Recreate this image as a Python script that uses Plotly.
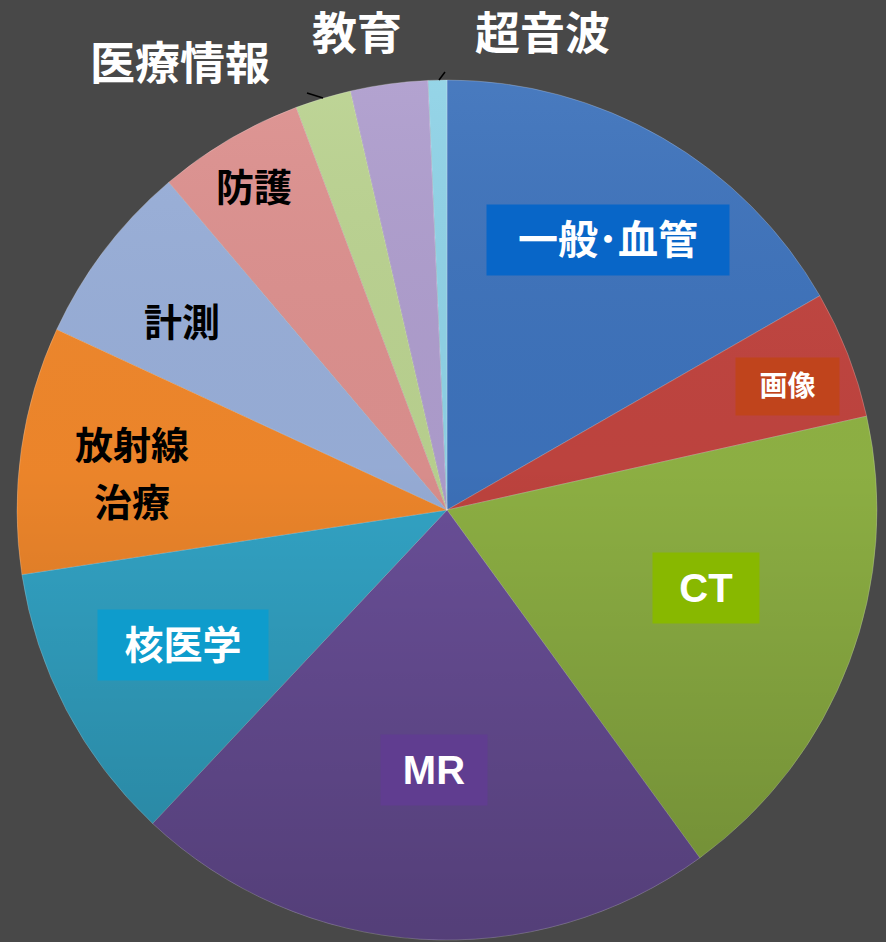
import base64
import plotly.graph_objects as go

# ---- data ----
categories = ["一般・血管", "画像", "CT", "MR", "核医学", "放射線治療",
              "計測", "防護", "医療情報", "教育", "超音波"]
values = [16.7, 4.8, 18.5, 22.0, 10.6, 9.3, 6.9, 5.5, 2.1, 2.9, 0.7]
label_lines = [["一般･血管"], ["画像"], ["CT"], ["MR"], ["核医学"], ["放射線", "治療"],
               ["計測"], ["防護"], ["医療情報"], ["教育"], ["超音波"]]

slice_colors = ["#3d72bb", "#c0443f", "#8fb244", "#6b509a", "#33a6c8", "#f0872b",
                "#98aed8", "#dc908e", "#bad290", "#ae9dcd", "#8fd2e6"]

W, H = 886, 942
BG = "#484848"
FONT = "Liberation Sans, Noto Sans CJK JP, Arial"

def px(x):
    return x / W

def py(y):
    return 1 - y / H

PIE_L, PIE_R, PIE_T, PIE_B = 17, 877, 80, 940

fig = go.Figure()
fig.add_trace(go.Pie(
    labels=categories,
    values=values,
    sort=False,
    direction="clockwise",
    rotation=0,
    textinfo="none",
    hoverinfo="label+percent",
    marker=dict(colors=slice_colors, line=dict(color="rgba(255,255,255,0.22)", width=1)),
    domain=dict(x=[px(PIE_L), px(PIE_R)], y=[py(PIE_B), py(PIE_T)]),
    showlegend=False,
))

# soft vertical shading over the pie (decoration only)
svg = ('<svg xmlns="http://www.w3.org/2000/svg" viewBox="0 0 100 100" preserveAspectRatio="none">'
       '<defs><linearGradient id="g" x1="0" y1="0" x2="0" y2="1">'
       '<stop offset="0" stop-color="#ffffff" stop-opacity="0.06"/>'
       '<stop offset="0.45" stop-color="#000000" stop-opacity="0.02"/>'
       '<stop offset="1" stop-color="#000000" stop-opacity="0.22"/>'
       '</linearGradient></defs>'
       '<circle cx="50" cy="50" r="50" fill="url(#g)"/></svg>')
svg_uri = "data:image/svg+xml;base64," + base64.b64encode(svg.encode()).decode()

# label styling: list of (center_x, center_y) per line, font_size, color, bg, box_w, box_h
label_style = [
    ([(608, 240)], 40, "white", "#0866c8", 242, 70),
    ([(787, 386)], 28, "white", "#c0441c", 103, 57),
    ([(706, 588)], 40, "white", "#88b800", 106, 70),
    ([(434, 770)], 40, "white", "#603d90", 106, 70),
    ([(183, 645)], 39, "white", "#0e9ccc", 170, 70),
    ([(132, 446), (132, 503)], 38, "black", None, None, None),
    ([(182, 323)], 38, "black", None, None, None),
    ([(254, 188)], 38, "black", None, None, None),
    ([(180, 65)], 45, "white", None, None, None),
    ([(357, 35)], 45, "white", None, None, None),
    ([(542, 35)], 45, "white", None, None, None),
]

annotations = []
for lines, (pos, fs, fc, bg, bw, bh) in zip(label_lines, label_style):
    for txt, (cx, cy) in zip(lines, pos):
        a = dict(
            x=px(cx), y=py(cy), xref="paper", yref="paper",
            text=txt, showarrow=False,
            xanchor="center", yanchor="middle",
            font=dict(family=FONT, size=fs, color=fc, weight="bold"),
        )
        if bg:
            a.update(bgcolor=bg, width=bw, height=bh, borderpad=0)
        annotations.append(a)

shapes = [
    dict(type="line", xref="paper", yref="paper",
         x0=px(307), y0=py(93), x1=px(323), y1=py(98),
         line=dict(color="black", width=1.5)),
    dict(type="line", xref="paper", yref="paper",
         x0=px(439), y0=py(80), x1=px(445), y1=py(72),
         line=dict(color="black", width=1.5)),
]

fig.update_layout(
    width=W, height=H,
    margin=dict(l=0, r=0, t=0, b=0),
    paper_bgcolor=BG, plot_bgcolor=BG,
    annotations=annotations,
    shapes=shapes,
    images=[dict(source=svg_uri, xref="paper", yref="paper",
                 x=px(PIE_L), y=py(PIE_T), sizex=(PIE_R - PIE_L) / W, sizey=(PIE_B - PIE_T) / H,
                 xanchor="left", yanchor="top", sizing="stretch", layer="above")],
)

fig.write_html("out.html", config={"displayModeBar": False},
               post_script="document.body.style.margin='0';document.body.style.background='#484848';")
